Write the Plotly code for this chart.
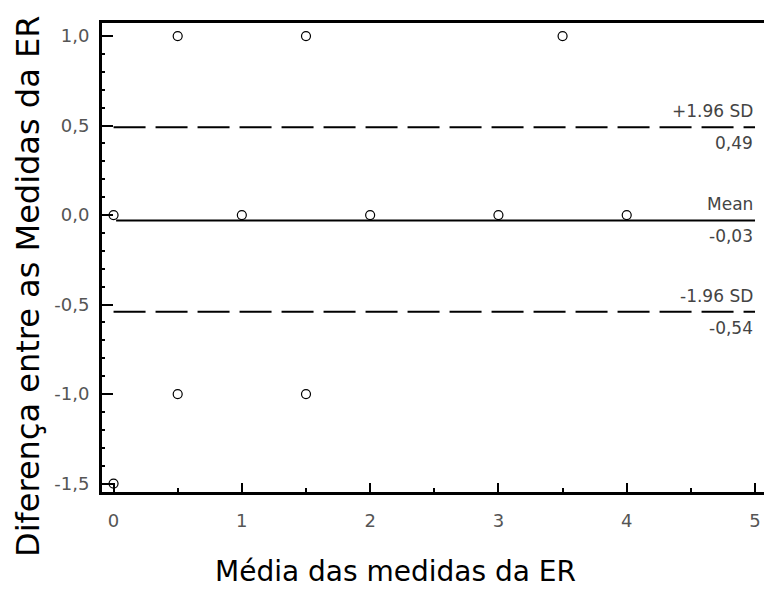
import plotly.graph_objects as go

# Data (Bland-Altman style plot)
x_vals = [0.5, 1.5, 3.5, 0, 1, 2, 3, 4, 0.5, 1.5, 0]
y_vals = [1, 1, 1, 0, 0, 0, 0, 0, -1, -1, -1.5]
mean_diff = -0.03
upper_loa = 0.49
lower_loa = -0.54
x_ticks = [0, 1, 2, 3, 4, 5]
y_ticks = [1.0, 0.5, 0.0, -0.5, -1.0, -1.5]
y_tick_labels = ["1,0", "0,5", "0,0", "-0,5", "-1,0", "-1,5"]
line_labels_above = ["+1.96 SD", "Mean", "-1.96 SD"]
line_labels_below = ["0,49", "-0,03", "-0,54"]

FONT = "DejaVu Sans"

fig = go.Figure()
fig.add_trace(go.Scatter(
    x=x_vals, y=y_vals, mode="markers",
    marker=dict(symbol="circle-open", size=9, color="black", line=dict(width=1.2)),
    showlegend=False, cliponaxis=True,
))

levels = [upper_loa, mean_diff, lower_loa]
for lvl, lab_a, lab_b in zip(levels, line_labels_above, line_labels_below):
    dash = "solid" if lvl == mean_diff else "32px,10px"
    x0 = 0.02 if lvl == mean_diff else 0.0
    fig.add_shape(type="line", xref="x", yref="y", x0=x0, x1=5, y0=lvl, y1=lvl,
                  line=dict(color="black", width=2, dash=dash))
    fig.add_annotation(x=5, y=lvl, xref="x", yref="y", text=lab_a, showarrow=False,
                       xanchor="right", yanchor="bottom", yshift=4,
                       font=dict(family=FONT, size=17, color="#444"))
    fig.add_annotation(x=5, y=lvl, xref="x", yref="y", text=lab_b, showarrow=False,
                       xanchor="right", yanchor="top", yshift=-4,
                       font=dict(family=FONT, size=17, color="#444"))

fig.add_annotation(text="Média das medidas da ER", xref="paper", yref="paper",
                   x=(395 - 102) / 662, y=-(571 - 492) / 469, showarrow=False,
                   xanchor="center", yanchor="middle",
                   font=dict(family=FONT, size=28, color="black"))
fig.add_annotation(text="Diferença entre as Medidas da ER", xref="paper", yref="paper",
                   x=-(102 - 28) / 662, y=(492 - 287) / 469, showarrow=False, textangle=-90,
                   xanchor="center", yanchor="middle",
                   font=dict(family=FONT, size=32, color="black"))

fig.update_layout(
    width=764, height=589,
    margin=dict(l=102, r=0, t=23, b=97),
    plot_bgcolor="white", paper_bgcolor="white",
    font=dict(family=FONT, color="#555"),
    xaxis=dict(range=[-0.09, 5.07], tickvals=x_ticks, ticks="inside", ticklen=9, tickwidth=2,
               tickcolor="black", showline=True, linecolor="black", linewidth=3, mirror=True,
               showgrid=False, zeroline=False, tickfont=dict(size=18, color="#555"),
               minor=dict(dtick=0.5, ticks="inside", ticklen=4, tickwidth=1.5, tickcolor="black"),
               ticklabelstandoff=10),
    yaxis=dict(range=[-1.547, 1.073], tickvals=y_ticks, ticktext=y_tick_labels, ticks="inside",
               ticklen=11, tickwidth=2, tickcolor="black", showline=True, linecolor="black",
               linewidth=3, mirror=False, showgrid=False, zeroline=False,
               tickfont=dict(size=18, color="#555"),
               minor=dict(dtick=0.1, ticks="inside", ticklen=3, tickwidth=1.5, tickcolor="black"),
               ticklabelstandoff=6),
)

fig.write_html("out.html", config={"displayModeBar": False},
               post_script="document.body.style.margin='0';document.body.style.overflow='hidden';")
